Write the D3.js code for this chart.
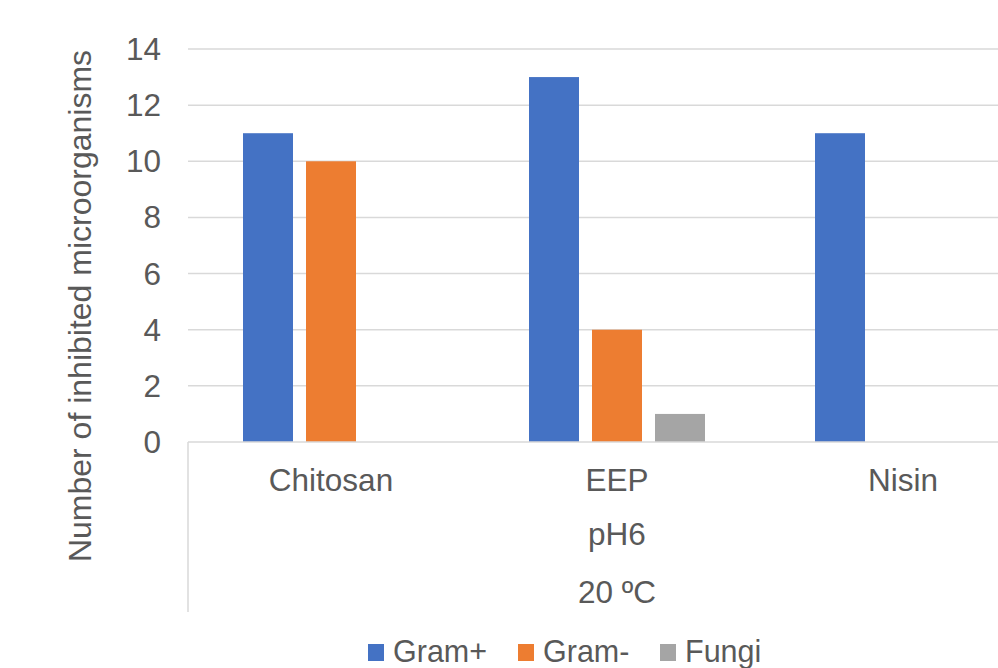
<!DOCTYPE html>
<html>
<head>
<meta charset="utf-8">
<script src="https://cdn.jsdelivr.net/npm/d3@7"></script>
<style>
  body { margin: 0; background: #fff; }
  svg text { font-family: "Liberation Sans", Arial, sans-serif; fill: #595959; }
</style>
</head>
<body>
<div id="chart"></div>
<script>
// chart data
const categories = ["Chitosan", "EEP", "Nisin"];
const seriesNames = ["Gram+", "Gram-", "Fungi"];
const gramPos = [11, 13, 11];
const gramNeg = [10, 4, 0];
const fungi = [0, 1, 0];
const yTicks = [0, 2, 4, 6, 8, 10, 12, 14];
const groupLabels = ["pH6", "20 ºC"];

const colors = d3.scaleOrdinal()
    .domain(seriesNames)
    .range(["#4472C4", "#ED7D31", "#A5A5A5"]);

const width = 998, height = 668;
const plotLeft = 188, plotBottom = 442, plotTop = 49;
const bandW = 286;

const seriesValues = [gramPos, gramNeg, fungi];
const rows = [];
categories.forEach((c, i) => {
    seriesNames.forEach((s, j) => {
        rows.push({ cat: c, series: s, value: seriesValues[j][i] });
    });
});

const svg = d3.select("#chart").append("svg")
    .attr("width", width)
    .attr("height", height);

const x0 = d3.scaleBand()
    .domain(categories)
    .range([plotLeft, plotLeft + bandW * categories.length]);

const x1 = d3.scaleBand()
    .domain(seriesNames)
    .range([55, bandW - 55])
    .paddingInner(13 / 63);

const y = d3.scaleLinear()
    .domain([0, 14])
    .range([plotBottom, plotTop]);

// gridlines
svg.append("g")
    .selectAll("line")
    .data(yTicks.filter(d => d > 0))
    .join("line")
    .attr("x1", plotLeft)
    .attr("x2", width)
    .attr("y1", d => y(d))
    .attr("y2", d => y(d))
    .attr("stroke", "#d9d9d9")
    .attr("stroke-width", 1.5);

// y tick labels
svg.append("g")
    .selectAll("text")
    .data(yTicks)
    .join("text")
    .attr("x", 161)
    .attr("y", d => y(d))
    .attr("dy", "0.35em")
    .attr("text-anchor", "end")
    .attr("font-size", "31.5px")
    .text(d => d);

// bars
svg.append("g")
    .selectAll("rect")
    .data(rows)
    .join("rect")
    .attr("x", d => x0(d.cat) + x1(d.series))
    .attr("y", d => y(d.value))
    .attr("width", x1.bandwidth())
    .attr("height", d => y(0) - y(d.value))
    .attr("fill", d => colors(d.series));

// category axis (multi-level)
const axis = svg.append("g");
axis.append("line")
    .attr("x1", plotLeft).attr("x2", width)
    .attr("y1", plotBottom).attr("y2", plotBottom)
    .attr("stroke", "#d9d9d9").attr("stroke-width", 1.5);
axis.append("line")
    .attr("x1", plotLeft).attr("x2", plotLeft)
    .attr("y1", plotBottom).attr("y2", 612)
    .attr("stroke", "#d9d9d9").attr("stroke-width", 1.5);

axis.selectAll(".cat")
    .data(categories)
    .join("text")
    .attr("class", "cat")
    .attr("x", d => x0(d) + x0.bandwidth() / 2)
    .attr("y", 491)
    .attr("text-anchor", "middle")
    .attr("font-size", "31.5px")
    .text(d => d);

const midX = (x0.range()[0] + x0.range()[1]) / 2;
axis.selectAll(".grp")
    .data(groupLabels)
    .join("text")
    .attr("class", "grp")
    .attr("x", midX)
    .attr("y", (d, i) => 545 + i * 58)
    .attr("text-anchor", "middle")
    .attr("font-size", "31.5px")
    .text(d => d);

// y axis title
svg.append("text")
    .attr("transform", "translate(91," + 306 + ") rotate(-90)")
    .attr("text-anchor", "middle")
    .attr("font-size", "32px")
    .text("Number of inhibited microorganisms");

// legend
const legendX = [368, 518, 660];
const legend = svg.append("g")
    .selectAll("g")
    .data(seriesNames)
    .join("g")
    .attr("transform", (d, i) => "translate(" + legendX[i] + ",644)");
legend.append("rect")
    .attr("width", 16)
    .attr("height", 17)
    .attr("fill", d => colors(d));
legend.append("text")
    .attr("x", 25)
    .attr("y", 18)
    .attr("font-size", "30.5px")
    .text(d => d);
</script>
</body>
</html>
